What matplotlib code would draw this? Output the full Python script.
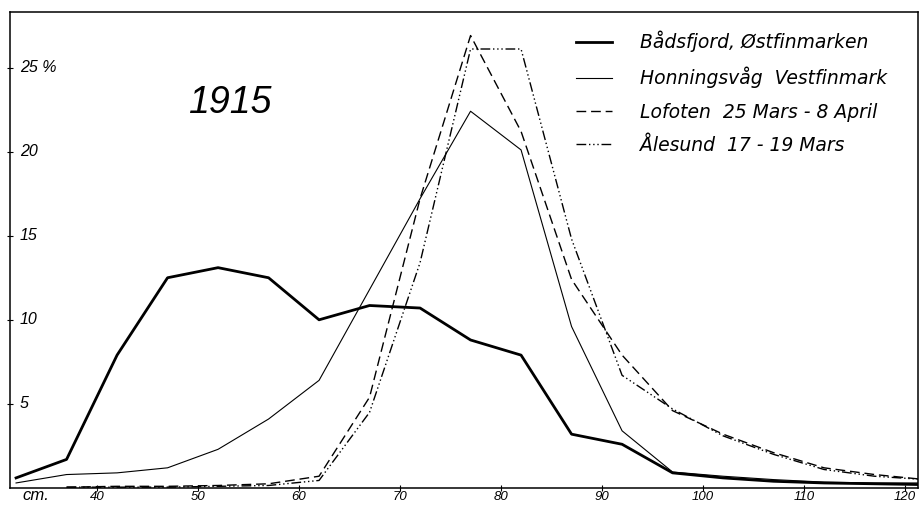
import numpy as np
import matplotlib
matplotlib.use("Agg")
import matplotlib.pyplot as plt
import matplotlib.transforms as mtransforms

plt.rcParams['font.family'] = ['Liberation Sans', 'DejaVu Sans']

# length classes (cm, class midpoints) and percentages
cm = [32, 37, 42, 47, 52, 57, 62, 67, 72, 77, 82, 87, 92, 97, 102, 107, 112, 117, 122]
badsfjord = [0.6, 1.7, 7.9, 12.5, 13.1, 12.5, 10.0, 10.85, 10.7, 8.8, 7.9, 3.2, 2.6,
             0.9, 0.6, 0.4, 0.3, 0.25, 0.2]
honningsvag = [0.3, 0.8, 0.9, 1.2, 2.3, 4.1, 6.4, 11.8, 17.2, 22.4, 20.1, 9.6, 3.4,
               0.95, 0.7, 0.5, 0.35, 0.3, 0.3]
lofoten = [np.nan, 0.05, 0.1, 0.1, 0.15, 0.25, 0.7, 5.4, 17.2, 26.9, 21.2, 12.4, 7.9,
           4.6, 3.2, 2.1, 1.2, 0.8, 0.5]
alesund = [np.nan, 0.05, 0.05, 0.05, 0.1, 0.15, 0.45, 4.5, 13.4, 26.1, 26.1, 14.8, 6.7,
           4.7, 3.1, 2.0, 1.1, 0.7, 0.5]

labels = ["Bådsfjord, Østfinmarken", "Honningsvåg  Vestfinmark",
          "Lofoten  25 Mars - 8 April", "Ålesund  17 - 19 Mars"]
xticks = [40, 50, 60, 70, 80, 90, 100, 110, 120]
yticks = [5, 10, 15, 20, 25]
ytick_labels = ["5", "10", "15", "20", "25 %"]

fig = plt.figure(figsize=(9.24, 5.05), dpi=100)
ax = fig.add_axes([10 / 924, 17 / 505, 908 / 924, 476 / 505])

ax.plot(cm, badsfjord, color="black", lw=2.0, label=labels[0])
ax.plot(cm, honningsvag, color="black", lw=0.8, label=labels[1])
ax.plot(cm, lofoten, color="black", lw=1.0, dashes=(7, 3.5), label=labels[2])
ax.plot(cm, alesund, color="black", lw=1.0, dashes=(7, 2, 1, 2, 1, 2, 1, 2), label=labels[3])

ax.set_xlim(31.4, 121.3)
ax.set_ylim(0, 28.3)

for s in ax.spines.values():
    s.set_linewidth(1.1)

ax.set_xticks(xticks)
ax.set_xticklabels([str(t) for t in xticks], style="italic", fontsize=9.5)
ax.tick_params(axis="x", direction="inout", length=5, width=0.8, pad=0)
ax.set_yticks(yticks)
ax.set_yticklabels([])
ax.tick_params(axis="y", direction="inout", length=5, width=0.8)

trans = mtransforms.blended_transform_factory(ax.transAxes, ax.transData)
for v, lab in zip(yticks, ytick_labels):
    ax.text(0.011, v, lab, transform=trans, ha="left", va="center",
            style="italic", fontsize=11.5)

fig.text(22 / 924, 1 - 496 / 505, "cm.", ha="left", va="center",
         style="italic", fontsize=12)

ax.text(0.242, 0.809, "1915", transform=ax.transAxes,
        ha="center", va="center", style="italic", fontsize=27)

leg = ax.legend(loc="upper left", bbox_to_anchor=(576 / 924, 1 - 31 / 505),
                bbox_transform=fig.transFigure, frameon=False,
                prop={"family": "DejaVu Sans", "style": "italic", "size": 13.5},
                handlelength=1.9, handletextpad=1.5, labelspacing=0.76,
                borderpad=0, borderaxespad=0)

fig.savefig("out.png", dpi=100)
